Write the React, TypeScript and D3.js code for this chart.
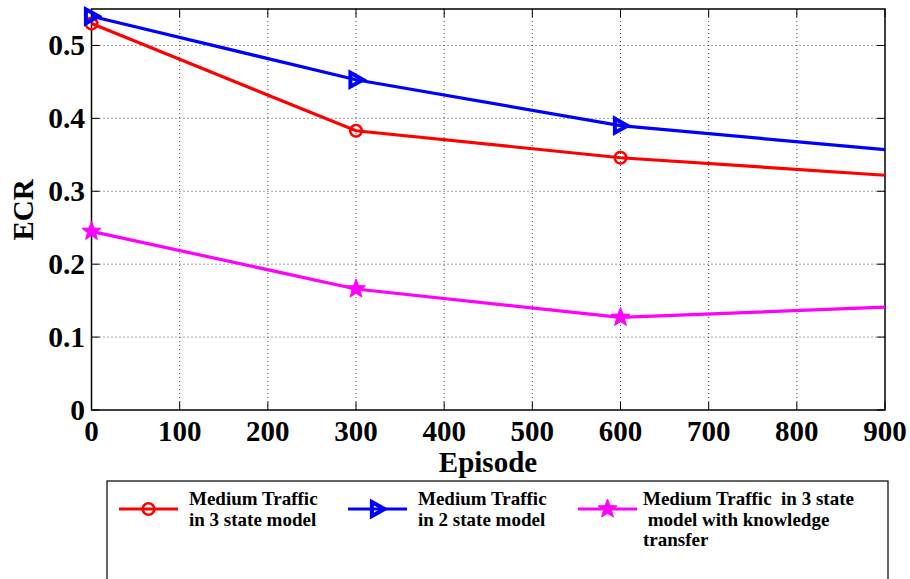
import React from "react";
import * as d3 from "d3";

const episodes = [0, 300, 600, 900];
const markerEpisodes = [0, 300, 600];
const ecr3State = [0.53, 0.383, 0.346, 0.322];
const ecr2State = [0.54, 0.453, 0.39, 0.357];
const ecrTransfer = [0.245, 0.166, 0.127, 0.141];
const xTicks = [0, 100, 200, 300, 400, 500, 600, 700, 800, 900];
const yTicks = [0, 0.1, 0.2, 0.3, 0.4, 0.5];
const yTickLabels = ["0", "0.1", "0.2", "0.3", "0.4", "0.5"];

const seriesNames = [
  ["Medium Traffic", "in 3 state model"],
  ["Medium Traffic", "in 2 state model"],
  ["Medium Traffic  in 3 state", " model with knowledge", "transfer"],
];
const seriesColors = ["#ff0000", "#0000ff", "#ff00ff"];
const seriesMarkers = ["circle", "triangle", "star"];
const seriesData = [ecr3State, ecr2State, ecrTransfer];

const W = 910;
const H = 579;
const m = { left: 91.5, right: 885, top: 9, bottom: 410 };
const font = "'Liberation Serif', 'Times New Roman', serif";

function Marker({ type, x, y, color }: { type: string; x: number; y: number; color: string }) {
  if (type === "circle") {
    return <circle cx={x} cy={y} r={5.8} fill="none" stroke={color} strokeWidth={2.6} />;
  }
  if (type === "triangle") {
    const s = 7;
    const p = `${x + s},${y} ${x - s * 0.8},${y - s} ${x - s * 0.8},${y + s}`;
    return <polygon points={p} fill="none" stroke={color} strokeWidth={4} strokeLinejoin="miter" />;
  }
  const outer = 10;
  const inner = 4.2;
  const pts: string[] = [];
  for (let i = 0; i < 10; i++) {
    const r = i % 2 === 0 ? outer : inner;
    const a = -Math.PI / 2 + (i * Math.PI) / 5;
    pts.push(`${x + r * Math.cos(a)},${y + r * Math.sin(a)}`);
  }
  return <polygon points={pts.join(" ")} fill={color} stroke={color} strokeWidth={1} />;
}

export default function App() {
  const x = d3.scaleLinear().domain([0, 900]).range([m.left, m.right]);
  const y = d3.scaleLinear().domain([0, 0.55]).range([m.bottom, m.top]);
  const line = d3
    .line<number>()
    .x((_, i) => x(episodes[i]))
    .y((d) => y(d));

  const legendLineX = [119, 348, 578];
  const legendTextX = [189, 418, 643];

  return (
    <div style={{ position: "absolute", left: 0, top: 0 }}>
      <svg width={W} height={H} style={{ display: "block", background: "#fff" }}>
        <rect x={0} y={0} width={W} height={H} fill="#fff" />
        {/* grid */}
        {xTicks.slice(1, -1).map((t) => (
          <line key={"gx" + t} x1={x(t)} x2={x(t)} y1={m.top} y2={m.bottom} stroke="#444" strokeWidth={1} strokeDasharray="1,3" />
        ))}
        {yTicks.slice(1).map((t) => (
          <line key={"gy" + t} x1={m.left} x2={m.right} y1={y(t)} y2={y(t)} stroke="#444" strokeWidth={1} strokeDasharray="1,3" />
        ))}
        {/* ticks */}
        {xTicks.map((t) => (
          <g key={"tx" + t}>
            <line x1={x(t)} x2={x(t)} y1={m.bottom} y2={m.bottom - 8} stroke="#000" strokeWidth={1} />
            <line x1={x(t)} x2={x(t)} y1={m.top} y2={m.top + 8} stroke="#000" strokeWidth={1} />
            <text x={x(t)} y={441} textAnchor="middle" fontFamily={font} fontWeight="bold" fontSize={29}>
              {t}
            </text>
          </g>
        ))}
        {yTicks.map((t, i) => (
          <g key={"ty" + t}>
            <line x1={m.left} x2={m.left + 8} y1={y(t)} y2={y(t)} stroke="#000" strokeWidth={1} />
            <line x1={m.right} x2={m.right - 8} y1={y(t)} y2={y(t)} stroke="#000" strokeWidth={1} />
            <text x={85} y={y(t)} dy="0.33em" textAnchor="end" fontFamily={font} fontWeight="bold" fontSize={29.5}>
              {yTickLabels[i]}
            </text>
          </g>
        ))}
        <rect x={m.left} y={m.top} width={m.right - m.left} height={m.bottom - m.top} fill="none" stroke="#000" strokeWidth={1.5} />
        {/* series */}
        {seriesData.map((data, si) => (
          <g key={"s" + si}>
            <path d={line(data) || ""} fill="none" stroke={seriesColors[si]} strokeWidth={3.2} />
            {episodes.map((e, i) =>
              markerEpisodes.includes(e) ? (
                <Marker key={i} type={seriesMarkers[si]} x={x(e)} y={y(data[i])} color={seriesColors[si]} />
              ) : null
            )}
          </g>
        ))}
        {/* axis titles */}
        <text x={488} y={472} textAnchor="middle" fontFamily={font} fontWeight="bold" fontSize={29}>
          Episode
        </text>
        <text transform="translate(33,210) rotate(-90)" textAnchor="middle" fontFamily={font} fontWeight="bold" fontSize={29}>
          ECR
        </text>
        {/* legend */}
        <rect x={107} y={481} width={781} height={110} fill="#fff" stroke="#000" strokeWidth={1.2} />
        {seriesNames.map((lines, si) => (
          <g key={"lg" + si}>
            <line x1={legendLineX[si]} x2={legendLineX[si] + 59} y1={509} y2={509} stroke={seriesColors[si]} strokeWidth={3} />
            <Marker type={seriesMarkers[si]} x={legendLineX[si] + 29.5} y={509} color={seriesColors[si]} />
            <text fontFamily={font} fontWeight="bold" fontSize={19} style={{ whiteSpace: "pre" }}>
              {lines.map((l, li) => (
                <tspan key={li} x={legendTextX[si]} y={505 + li * 20.5}>
                  {l}
                </tspan>
              ))}
            </text>
          </g>
        ))}
      </svg>
    </div>
  );
}
